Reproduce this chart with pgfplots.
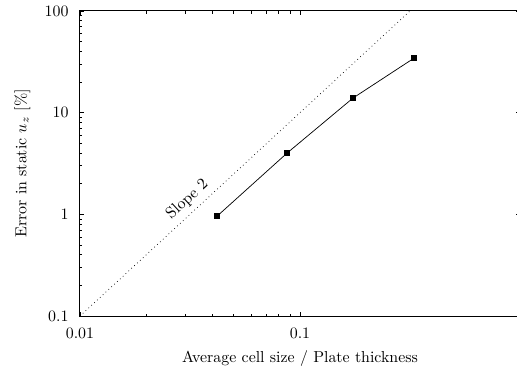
\documentclass[border=0pt]{standalone}
\usepackage{pgfplots}
\pgfplotsset{compat=1.18}
\begin{document}
\begin{tikzpicture}[x=1pt,y=1pt]
\path[use as bounding box] (0,0) rectangle (325.2,234);
\begin{axis}[
  at={(50.3pt,35.2pt)}, anchor=south west,
  scale only axis, width=276.8pt, height=191.9pt,
  xmode=log, ymode=log,
  xmin=0.01, xmax=1, ymin=0.1, ymax=100,
  xtick={0.01,0.1}, xticklabels={0.01,0.1},
  extra x ticks={1}, extra x tick labels={},
  ytick={0.1,1,10,100}, yticklabels={0.1,1,10,100},
  axis line style={line width=0.6pt},
  tick style={black, line width=0.5pt},
  major tick length=2.5pt, minor tick length=1.6pt,
  xticklabel style={yshift=-3.7pt},
  yticklabel style={xshift=-3.7pt},
  xlabel={Average cell size / Plate thickness},
  ylabel={Error in static $u_z$ [\%]},
  xlabel style={at={(axis description cs:0.5,0)}, anchor=north, yshift=-18pt},
  ylabel style={at={(axis description cs:0,0.5)}, rotate=0, anchor=south, yshift=27.7pt},
  clip=true,
]
\addplot[black, dotted, line width=0.45pt] coordinates {(0.01,0.1) (0.3162,100)};
\addplot[black, line width=0.45pt, mark=square*, mark size=1.5pt] coordinates {
  (0.0420,0.96) (0.0873,4.0) (0.174,13.9) (0.330,34.4)};
\node[rotate=42.7, anchor=south] at (axis cs:0.0337,1.13) {Slope 2};
\end{axis}
\end{tikzpicture}
\end{document}
